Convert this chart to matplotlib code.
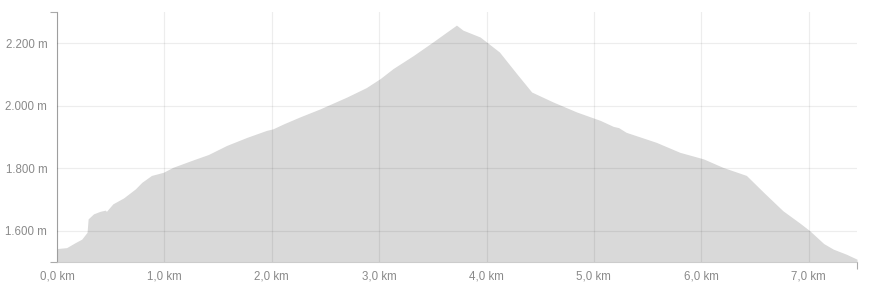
import matplotlib
matplotlib.use("Agg")
import matplotlib.pyplot as plt

# perfil de elevacion (km, m)
dist_km = [0.00, 0.09, 0.17, 0.23, 0.28, 0.29, 0.34, 0.40, 0.45, 0.46, 0.52,
           0.62, 0.73, 0.79, 0.88, 0.99, 1.08, 1.27, 1.41, 1.58, 1.77, 1.95,
           2.01, 2.11, 2.26, 2.45, 2.70, 2.88, 3.01, 3.13, 3.32, 3.50, 3.63,
           3.72, 3.78, 3.86, 3.94, 4.12, 4.28, 4.42, 4.62, 4.84, 5.06, 5.18,
           5.23, 5.30, 5.58, 5.80, 6.02, 6.20, 6.42, 6.58, 6.76, 6.92, 7.01,
           7.14, 7.23, 7.35, 7.45]
elev_m = [1543, 1546, 1562, 1573, 1595, 1638, 1654, 1662, 1666, 1662, 1686,
          1705, 1734, 1755, 1777, 1787, 1803, 1827, 1844, 1873, 1899, 1921,
          1926, 1942, 1964, 1990, 2028, 2058, 2087, 2119, 2161, 2204, 2236,
          2258, 2242, 2231, 2220, 2172, 2103, 2044, 2012, 1980, 1953, 1934,
          1930, 1915, 1883, 1851, 1830, 1803, 1777, 1723, 1664, 1624, 1600,
          1559, 1541, 1525, 1509]

x_ticks = [0, 1, 2, 3, 4, 5, 6, 7]
x_labels = ["0,0 km", "1,0 km", "2,0 km", "3,0 km", "4,0 km", "5,0 km", "6,0 km", "7,0 km"]
y_ticks = [1600, 1800, 2000, 2200]
y_labels = ["1.600 m", "1.800 m", "2.000 m", "2.200 m"]

plt.rcParams["font.family"] = ["Liberation Sans", "DejaVu Sans"]

fig = plt.figure(figsize=(8.73, 2.94), dpi=100)
ax = fig.add_axes([57 / 873, 32 / 294, 800 / 873, 250 / 294])

ax.fill_between(dist_km, elev_m, 1500, color="#d9d9d9", linewidth=0, zorder=1)

ax.set_xlim(0, 7.45)
ax.set_ylim(1500, 2300)

ax.set_xticks(x_ticks)
ax.set_xticklabels(x_labels)
ax.set_yticks(y_ticks)
ax.set_yticklabels(y_labels)
ax.tick_params(length=0, labelsize=8.3, labelcolor="#8a8a8a")
ax.tick_params(axis="x", pad=6)
ax.tick_params(axis="y", pad=7)

# marcas en los extremos
ax.set_xticks([0, 7.45], minor=True)
ax.set_yticks([1500, 2300], minor=True)
ax.tick_params(which="minor", length=5, color="#aaaaaa", width=0.8)

ax.grid(True, which="major", color="black", alpha=0.07, linewidth=0.9, zorder=2)
ax.set_axisbelow(False)

for s in ["top", "right"]:
    ax.spines[s].set_visible(False)
ax.spines["left"].set_color("#aaaaaa")
ax.spines["bottom"].set_color("#cccccc")
ax.spines["left"].set_linewidth(0.8)
ax.spines["bottom"].set_linewidth(0.8)

fig.savefig("out.png", dpi=100)
